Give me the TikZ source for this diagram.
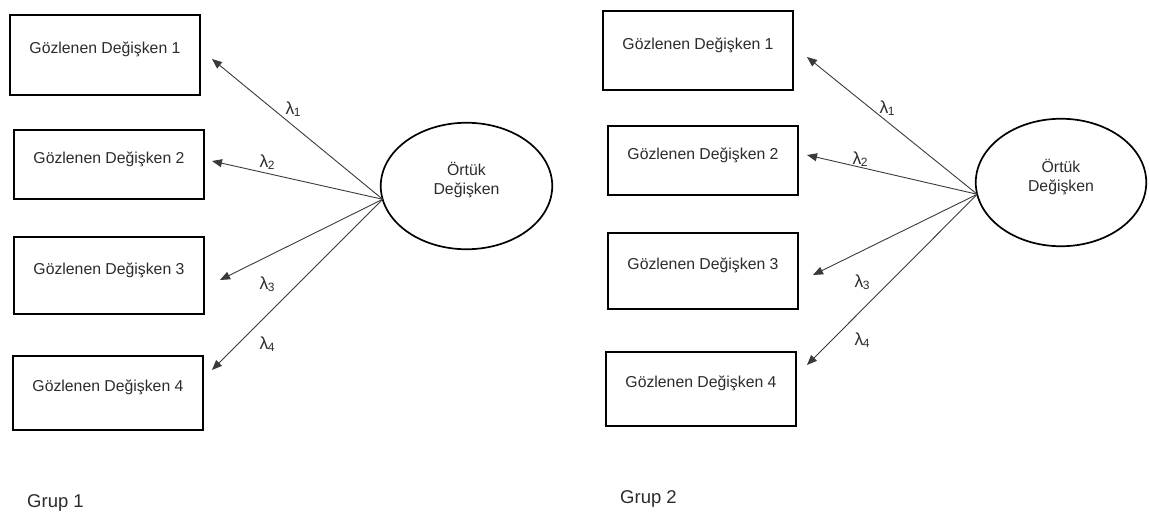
\documentclass[tikz,border=0pt]{standalone}
\usepackage{fontspec}
\setmainfont{Liberation Sans}
\usetikzlibrary{shapes.geometric,arrows.meta}
\definecolor{txt}{HTML}{2B2B2B}
\definecolor{lin}{HTML}{3A3A3A}
\tikzset{
  obsbox/.style={draw=black, line width=1.6pt, rectangle, inner sep=0pt, outer sep=0pt,
    minimum width=190.5pt, text=txt, font=\fontsize{15.8}{19}\selectfont,
    text height=12pt, text depth=14.4pt},
  latent/.style={draw=black, line width=1.7pt, ellipse, inner sep=0pt, outer sep=0pt,
    text=txt, font=\fontsize{15.8}{19}\selectfont},
  arr/.style={draw=lin, line width=0.9pt, -{Triangle[length=10pt,width=8pt]}},
  lam/.style={text=txt, font=\fontsize{17.5}{20}\selectfont, inner sep=0pt},
  grp/.style={text=txt, font=\fontsize{18.5}{22}\selectfont, inner sep=0pt}
}
\newcommand{\lamsub}[1]{λ\kern-0.5pt\raisebox{-2pt}{\fontsize{12}{14}\selectfont #1}}
\newcommand{\latenttext}{\raisebox{1pt}[0pt][0pt]{\begin{tabular}{@{}c@{}}Örtük\\Değişken\end{tabular}}}
\begin{document}
\begin{tikzpicture}[x=1pt,y=-1pt]
\useasboundingbox (0,0) rectangle (1149,513);
% ---------- Group 1 ----------
\node[obsbox, minimum height=80.5pt] (a1) at (105,55) {Gözlenen Değişken 1};
\node[obsbox, minimum height=69.5pt] (a2) at (109,164.5) {Gözlenen Değişken 2};
\node[obsbox, minimum height=77.5pt] (a3) at (109,275.5) {Gözlenen Değişken 3};
\node[obsbox, minimum height=74.5pt] (a4) at (108,393) {Gözlenen Değişken 4};
\node[latent, minimum width=171.5pt, minimum height=126.5pt] (e1) at (466.5,186) {\latenttext};
\coordinate (ta1) at (212,59);
\coordinate (ta2) at (212,161);
\coordinate (ta3) at (220,280);
\coordinate (ta4) at (212,370);
\draw[arr] (e1.189) -- (ta1);
\draw[arr] (e1.189) -- (ta2);
\draw[arr] (e1.189) -- (ta3);
\draw[arr] (e1.189) -- (ta4);
\node[lam] (la1) at (293,109) {\lamsub{1}};
\node[lam] (la2) at (267,162) {\lamsub{2}};
\node[lam] (la3) at (267,284) {\lamsub{3}};
\node[lam] (la4) at (267,344) {\lamsub{4}};
\node[grp, anchor=base west] (g1) at (27,507) {Grup 1};
% ---------- Group 2 ----------
\node[obsbox, minimum height=79.5pt] (b1) at (698,50.5) {Gözlenen Değişken 1};
\node[obsbox, minimum height=69.5pt] (b2) at (703,160.5) {Gözlenen Değişken 2};
\node[obsbox, minimum height=76.5pt] (b3) at (703,271) {Gözlenen Değişken 3};
\node[obsbox, minimum height=74.5pt] (b4) at (701,389) {Gözlenen Değişken 4};
\node[latent, minimum width=170.5pt, minimum height=127.5pt] (e2) at (1061,182.5) {\latenttext};
\coordinate (tb1) at (807,57);
\coordinate (tb2) at (807,155);
\coordinate (tb3) at (813,275);
\coordinate (tb4) at (807,365);
\draw[arr] (e2.188) -- (tb1);
\draw[arr] (e2.188) -- (tb2);
\draw[arr] (e2.188) -- (tb3);
\draw[arr] (e2.188) -- (tb4);
\node[lam] (lb1) at (887,108) {\lamsub{1}};
\node[lam] (lb2) at (860,159) {\lamsub{2}};
\node[lam] (lb3) at (862,282) {\lamsub{3}};
\node[lam] (lb4) at (862,340) {\lamsub{4}};
\node[grp, anchor=base west] (g2) at (620,503) {Grup 2};
\end{tikzpicture}
\end{document}
